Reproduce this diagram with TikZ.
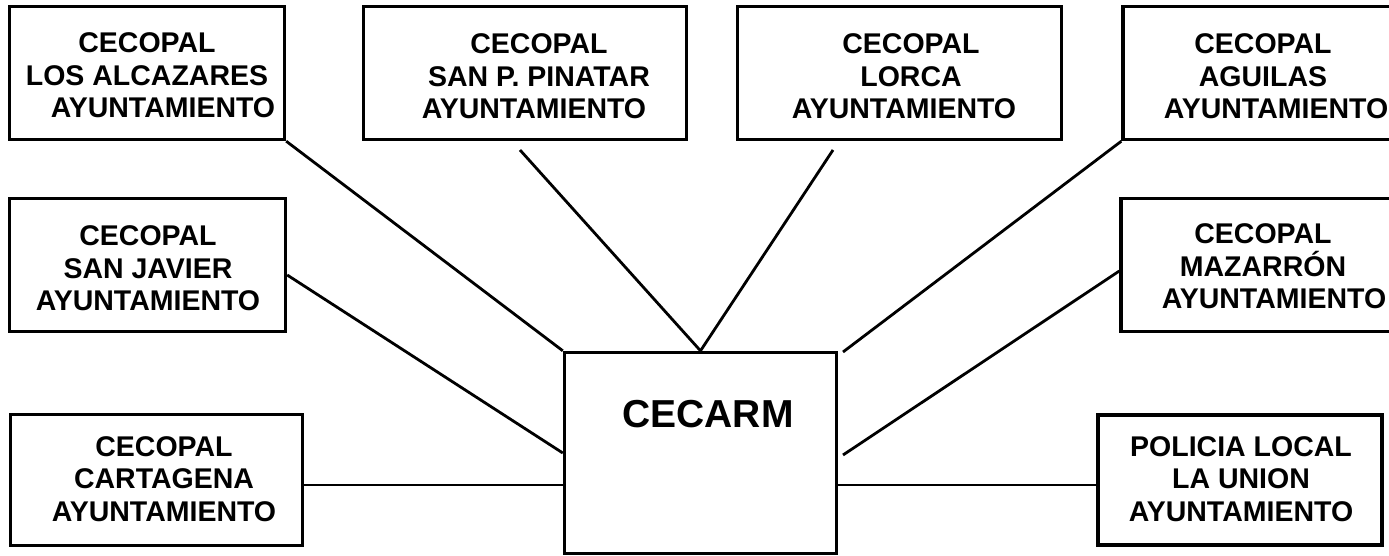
\documentclass[tikz,border=0pt]{standalone}
\usepackage{fontspec}
\setmainfont{Liberation Sans}
\begin{document}
\begin{tikzpicture}[x=1pt,y=-1pt,
  box/.style={draw, line width=3.4pt, rectangle, inner sep=0pt},
  txt/.style={align=center, inner sep=0pt, font=\fontsize{28.5}{32.5}\selectfont\bfseries},
  big/.style={inner sep=0pt, font=\fontsize{39}{44}\selectfont\bfseries},
  link/.style={line width=2.8pt}]
\useasboundingbox (0,0) rectangle (1389,556);
% boxes
\node[box, minimum width=275pt, minimum height=133pt] (b1) at (147,73) {};
\node[box, minimum width=323pt, minimum height=133pt] (b2) at (525,73) {};
\node[box, minimum width=324pt, minimum height=133pt] (b3) at (899.5,73) {};
\node[box, minimum width=278pt, minimum height=133pt] (b4) at (1262,73) {};
\node[box, minimum width=276pt, minimum height=133pt] (b5) at (147.5,265) {};
\node[box, minimum width=278pt, minimum height=133pt] (b6) at (1260,265) {};
\node[box, minimum width=292pt, minimum height=131pt] (b7) at (156.5,480) {};
\node[box, line width=4.3pt, minimum width=284pt, minimum height=130pt] (b8) at (1240,480) {};
\node[box, minimum width=272pt, minimum height=201pt] (cecarm) at (700.5,453) {};
% texts
\node[txt] (t1) at (147,75.5) {CECOPAL\\LOS ALCAZARES\\\hspace*{32pt}AYUNTAMIENTO};
\node[txt] (t2) at (539,76.5) {CECOPAL\\SAN P. PINATAR\\AYUNTAMIENTO\hspace*{10pt}};
\node[txt] (t3) at (911,76.5) {CECOPAL\\LORCA\\AYUNTAMIENTO\hspace*{14pt}};
\node[txt] (t4) at (1263,76.5) {CECOPAL\\AGUILAS\\\hspace*{26pt}AYUNTAMIENTO};
\node[txt] (t5) at (148,268.5) {CECOPAL\\SAN JAVIER\\AYUNTAMIENTO};
\node[txt] (t6) at (1263,266.5) {CECOPAL\\MAZARRÓN\\\hspace*{22pt}AYUNTAMIENTO};
\node[txt] (t7) at (164,479) {CECOPAL\\CARTAGENA\\AYUNTAMIENTO};
\node[txt] (t8) at (1241,479) {POLICIA LOCAL\\LA UNION\\AYUNTAMIENTO};
\node[big] (tc) at (708,414) {CECARM};
% free ends
\coordinate (p2) at (520,150);
\coordinate (p3) at (833,150);
\coordinate (q4) at (843,352);
\coordinate (q6) at (843,455);
\coordinate (c5) at ([yshift=-10pt]b5.east);
\coordinate (c6) at ([yshift=-6pt]b6.west);
\coordinate (c7) at ([yshift=-5pt]b7.east);
% connectors
\draw[link] (b1.south east) -- (cecarm.north west);
\draw[link] (p2) -- (cecarm.north);
\draw[link] (p3) -- (cecarm.north);
\draw[link] (b4.south west) -- (q4);
\draw[link] (c5) -- (cecarm.west);
\draw[link] (c6) -- (q6);
\draw[link] (c7) -- (c7 -| cecarm.west);
\draw[link] (c7 -| cecarm.east) -- (c7 -| b8.west);
\end{tikzpicture}
\end{document}
